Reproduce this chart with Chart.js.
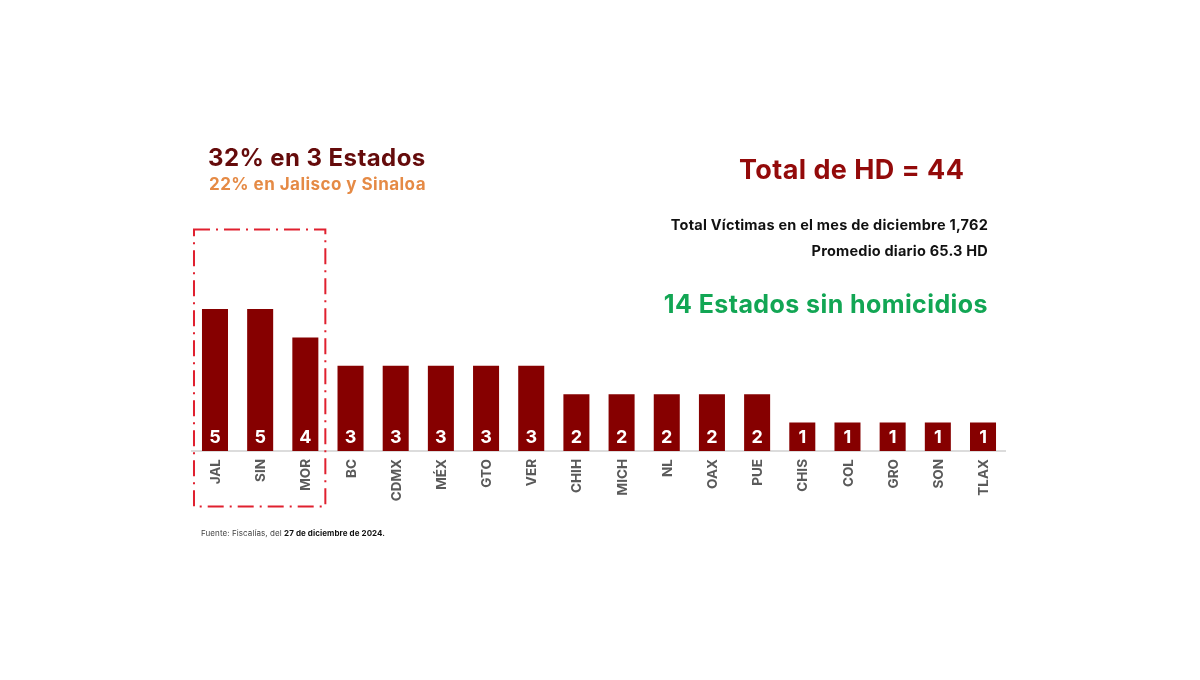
<!DOCTYPE html>
<html lang="es">
<head>
<meta charset="utf-8">
<title>Homicidios dolosos por estado</title>
<script src="https://cdn.jsdelivr.net/npm/chart.js@4/dist/chart.umd.min.js"></script>
<style>
html, body { margin: 0; padding: 0; background: #fff; }
#page { position: relative; width: 1200px; height: 680px; overflow: hidden; font-family: Inter, sans-serif; }
#grafica { position: absolute; left: 0; top: 0; }
.txt { position: absolute; white-space: nowrap; font-weight: 700; line-height: 1; }
.der { text-align: right; right: 212px; }
</style>
</head>
<body>
<div id="page">
    <canvas id="grafica" width="1200" height="680"></canvas>
    <div class="txt" style="left:208px; top:146px; font-size:24px; letter-spacing:0.42px; color:#650b0b;">32% en 3 Estados</div>
    <div class="txt" style="left:209px; top:176px; font-size:17px; letter-spacing:0.46px; color:#e58a45;">22% en Jalisco y Sinaloa</div>
    <div class="txt" style="left:739px; top:156px; font-size:27px; letter-spacing:0.42px; color:#930a0a;">Total de HD = 44</div>
    <div class="txt der" style="top:218px; font-size:14.5px; letter-spacing:0.22px; color:#111;">Total Víctimas en el mes de diciembre 1,762</div>
    <div class="txt der" style="top:244px; font-size:14.5px; letter-spacing:0.2px; color:#111;">Promedio diario 65.3 HD</div>
    <div class="txt der" style="top:292px; font-size:25px; letter-spacing:0.42px; color:#12a654;">14 Estados sin homicidios</div>
    <div class="txt" style="left:201px; top:529px; font-size:8px; letter-spacing:0.08px; font-weight:400; color:#444;">Fuente: Fiscalías, del <b style="color:#111;">27 de diciembre de 2024.</b></div>
</div>
<script>
const estados = ["JAL", "SIN", "MOR", "BC", "CDMX", "MÉX", "GTO", "VER", "CHIH", "MICH", "NL", "OAX", "PUE", "CHIS", "COL", "GRO", "SON", "TLAX"];
const victimas = [5, 5, 4, 3, 3, 3, 3, 3, 2, 2, 2, 2, 2, 1, 1, 1, 1, 1];

// numero blanco en la base de cada barra
const etiquetas = {
    id: 'etiquetas',
    afterDatasetsDraw(chart) {
        let ctx = chart.ctx;
        let meta = chart.getDatasetMeta(0);
        ctx.save();
        ctx.fillStyle = '#fff';
        ctx.font = '700 18px Inter';
        ctx.textAlign = 'center';
        ctx.textBaseline = 'middle';
        meta.data.forEach(function (barra, i) {
            ctx.fillText(victimas[i], barra.x, barra.base - 13.5);
        });
        ctx.restore();
    }
};

// recuadro rojo sobre los tres primeros estados
const recuadro = {
    id: 'recuadro',
    afterDraw(chart) {
        let ctx = chart.ctx;
        let x = chart.scales.x;
        let izq = x.getPixelForValue(0) - 21;
        let der = x.getPixelForValue(2) + 20;
        ctx.save();
        ctx.strokeStyle = '#e0202f';
        ctx.lineWidth = 2;
        ctx.setLineDash([16, 6, 2, 6]);
        ctx.strokeRect(izq, 229.5, der - izq, 277);
        ctx.restore();
    }
};

var ctx = document.getElementById('grafica').getContext('2d');
var grafica = new Chart(ctx, {
    type: 'bar',
    data: {
        labels: estados,
        datasets: [{
            label: 'Víctimas',
            data: victimas,
            backgroundColor: '#860000',
            barPercentage: 0.576,
            categoryPercentage: 1
        }]
    },
    options: {
        responsive: false,
        animation: false,
        layout: { padding: { left: 192.4, right: 194.4, top: 280.6, bottom: 169 } },
        plugins: {
            legend: { display: false },
            title: { display: false },
            tooltip: { enabled: false }
        },
        scales: {
            x: {
                grid: { display: false, drawTicks: false },
                border: { color: '#dcdcdc', width: 2 },
                afterFit: function (scale) { scale.height = 60; },
                ticks: {
                    minRotation: 90,
                    maxRotation: 90,
                    autoSkip: false,
                    padding: 8,
                    labelOffset: 1,
                    color: '#5a5a5a',
                    font: { family: 'Inter', size: 13.5, weight: '700' }
                }
            },
            y: {
                display: false,
                min: 0,
                max: 6
            }
        }
    },
    plugins: [etiquetas, recuadro]
});
</script>
</body>
</html>
